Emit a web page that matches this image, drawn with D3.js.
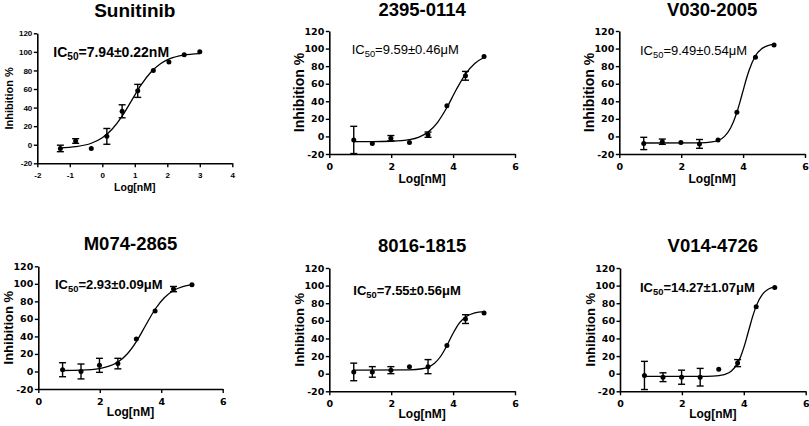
<!DOCTYPE html>
<html>
<head>
<meta charset="utf-8">
<script src="https://cdn.jsdelivr.net/npm/d3@7"></script>
<style>
  html, body { margin: 0; padding: 0; background: #fff; }
  svg { display: block; }
</style>
</head>
<body>
<svg id="chart" width="809" height="426"></svg>
<script>
// ---- data ----
const titles = ['Sunitinib', '2395-0114', 'V030-2005', 'M074-2865', '8016-1815', 'V014-4726']
const ic50Values = ['=7.94\u00b10.22nM', '=9.59\u00b10.46\u03bcM', '=9.49\u00b10.54\u03bcM',
                    '=2.93\u00b10.09\u03bcM', '=7.55\u00b10.56\u03bcM', '=14.27\u00b11.07\u03bcM']

const yTicks = [-20, 0, 20, 40, 60, 80, 100, 120]
const xTicksSunitinib = [-2, -1, 0, 1, 2, 3, 4]
const xTicksCompound = [0, 2, 4, 6]

// log[nM] doses
const logDoseSunitinib = [-1.29, -0.82, -0.34, 0.14, 0.61, 1.09, 1.57, 2.05, 2.52, 3.0]
const logDoseCompound = [0.79, 1.39, 1.99, 2.59, 3.19, 3.80, 4.40, 5.00]

// mean inhibition % and error (0 = bar hidden behind marker)
const meanSunitinib = [-4, 4, -4, 9, 36, 58, 80, 89, 97, 100]
const errSunitinib  = [3.5, 2.5, 0, 8.5, 7, 7, 0, 0, 0, 0]
const mean23950114 = [-4, -8, -2, -7, 2, 35, 69, 91]
const err23950114  = [15.5, 0, 3, 0, 3, 0, 5, 0]
const meanV0302005 = [-8, -6, -7, -8.5, -4, 27.5, 90, 104]
const errV0302005  = [7, 3, 0, 5, 0, 0, 0, 0]
const meanM0742865 = [2, 0, 7, 9, 37, 69, 94, 99]
const errM0742865  = [8, 8.5, 8, 6, 0, 0, 3, 0]
const mean80161815 = [2, 2, 4, 8, 8, 32, 62, 69]
const err80161815  = [10, 6, 4, 0, 8, 0, 5, 0]
const meanV0144726 = [-2, -4, -4, -4, 5, 12, 76, 98]
const errV0144726  = [16, 5, 8, 10, 0, 4, 0, 0]

// fitted curves: [log dose, inhibition %]
const curveSunitinib = [[-1.29, -3.3], [-0.82, -2.1], [-0.34, 1.6], [0, 7.5], [0.3, 16.7], [0.6, 30.3],
  [0.9, 47.5], [1.2, 64.7], [1.5, 78.3], [1.8, 87.5], [2.1, 92.9], [2.5, 96.5], [3.0, 98.2]]
const curve23950114 = [[0.79, -6], [1.39, -6], [1.99, -5.5], [2.59, -3.6], [2.9, -0.7], [3.19, 4.9],
  [3.5, 16.1], [3.8, 32.9], [4.1, 53.1], [4.4, 71], [4.7, 83.1], [5.0, 89.8]]
const curveV0302005 = [[0.79, -7.5], [2.59, -7.3], [3.0, -6.2], [3.2, -4.6], [3.4, 0.1], [3.6, 9.8],
  [3.8, 27.5], [3.9, 39.4], [4.0, 52.2], [4.1, 64.8], [4.2, 75.8], [4.4, 91.8], [4.6, 99.7],
  [4.8, 103.4], [5.0, 105]]
const curveM0742865 = [[0.79, 1.1], [1.39, 1.5], [1.99, 3.3], [2.3, 6], [2.59, 10.8], [2.9, 20.2],
  [3.19, 34], [3.5, 53], [3.8, 71], [4.1, 84.2], [4.4, 92.4], [4.7, 96.8], [5.0, 99]]
const curve80161815 = [[0.79, 4], [2.59, 4.3], [3.0, 5.6], [3.19, 7.5], [3.4, 11.9], [3.6, 19.8],
  [3.8, 32], [3.9, 39.1], [4.0, 45.9], [4.1, 52.1], [4.2, 57.3], [4.4, 64.3], [4.7, 69], [5.0, 70.4]]
const curveV0144726 = [[0.79, -3], [2.59, -3], [3.0, -2.7], [3.2, -2.1], [3.4, -0.7], [3.6, 3.1],
  [3.8, 12], [3.9, 19.6], [4.0, 29.6], [4.1, 41.6], [4.2, 54.4], [4.3, 66.5], [4.4, 76.7],
  [4.6, 90], [4.8, 96.1], [5.0, 98.5]]

const means = [meanSunitinib, mean23950114, meanV0302005, meanM0742865, mean80161815, meanV0144726]
const errs = [errSunitinib, err23950114, errV0302005, errM0742865, err80161815, errV0144726]
const curves = [curveSunitinib, curve23950114, curveV0302005, curveM0742865, curve80161815, curveV0144726]

// ---- layout of the six panels ----
const arial = "'Liberation Sans', Arial, sans-serif"
const small = { titleSize: 19, tickFont: arial, tickSize: 8,
                yLabelSize: 11, xLabelSize: 10.5, icSize: 14 }
const big = { titleSize: 18.5, tickFont: "'DejaVu Sans', sans-serif", tickSize: 9.5,
              yLabelSize: 14, xLabelSize: 12, icSize: 13 }

const panels = [
  Object.assign({}, small, { left: 37.3, right: 232.3, top: 33.3, bottom: 163.3, xDomain: [-2, 4],
    titleY: 16.7, yLabelDx: -28, xLabelDy: 28, icX: 53.3, icY: 56.7, icBold: true }),
  Object.assign({}, big, { left: 329.3, right: 515, top: 31, bottom: 154, xDomain: [0, 6],
    titleY: 16, yLabelDx: -30, xLabelDy: 28.5, icX: 351.7, icY: 54, icBold: false }),
  Object.assign({}, big, { left: 619.3, right: 805, top: 31, bottom: 154, xDomain: [0, 6],
    titleY: 16, yLabelDx: -30, xLabelDy: 28.5, icX: 640, icY: 55, icBold: false }),
  Object.assign({}, big, { left: 38.3, right: 222.7, top: 266.3, bottom: 389, xDomain: [0, 6],
    titleY: 250.3, yLabelDx: -30, xLabelDy: 27, icX: 55, icY: 289, icBold: true, yLabelSize: 13 }),
  Object.assign({}, big, { left: 329.3, right: 515, top: 268, bottom: 391.3, xDomain: [0, 6],
    titleY: 252, yLabelDx: -30, xLabelDy: 27, icX: 353.3, icY: 294.7, icBold: true, yLabelSize: 13 }),
  Object.assign({}, big, { left: 620, right: 805.7, top: 268, bottom: 391.3, xDomain: [0, 6],
    titleY: 252, yLabelDx: -30, xLabelDy: 27, icX: 640, icY: 292.3, icBold: true, yLabelSize: 13 })
]

const svg = d3.select('#chart')

panels.forEach((p, i) => {
  const g = svg.append('g').attr('class', 'panel').style('font-family', arial)
  const x = d3.scaleLinear().domain(p.xDomain).range([p.left, p.right])
  const y = d3.scaleLinear().domain([-20, 120]).range([p.bottom, p.top])
  const doses = i === 0 ? logDoseSunitinib : logDoseCompound
  const xTicks = i === 0 ? xTicksSunitinib : xTicksCompound

  const gy = g.append('g')
      .attr('transform', `translate(${p.left},0)`)
      .call(d3.axisLeft(y).tickValues(yTicks).tickFormat(d => String(d))
        .tickSize(3.5).tickSizeOuter(0).tickPadding(1.5))
  const gx = g.append('g')
      .attr('transform', `translate(0,${p.bottom})`)
      .call(d3.axisBottom(x).tickValues(xTicks).tickFormat(d => String(d))
        .tickSize(4).tickSizeOuter(0).tickPadding(5))

  ;[gy, gx].forEach(a => {
    a.select('.domain').attr('stroke', '#000').attr('stroke-width', 1.6)
    a.selectAll('.tick line').attr('stroke', '#000').attr('stroke-width', 1.4)
    a.selectAll('.tick text')
      .style('font-family', p.tickFont)
      .style('font-weight', 'bold')
      .style('font-size', p.tickSize + 'px')
      .attr('fill', '#000')
  })

  // fitted curve
  const line = d3.line()
      .x(d => x(d[0]))
      .y(d => y(d[1]))
      .curve(d3.curveMonotoneX)
  g.append('path')
      .datum(curves[i])
      .attr('d', line)
      .attr('fill', 'none')
      .attr('stroke', '#000')
      .attr('stroke-width', 1.3)

  // error bars
  const pts = doses.map((d, k) => ({ x: d, m: means[i][k], e: errs[i][k] }))
  const bars = g.append('g')
      .attr('stroke', '#000')
      .attr('stroke-width', 1.4)
    .selectAll('g')
    .data(pts.filter(d => d.e > 0))
    .enter().append('g')
  bars.append('line')
      .attr('x1', d => x(d.x)).attr('x2', d => x(d.x))
      .attr('y1', d => y(d.m - d.e)).attr('y2', d => y(d.m + d.e))
  bars.append('line')
      .attr('x1', d => x(d.x) - 3.5).attr('x2', d => x(d.x) + 3.5)
      .attr('y1', d => y(d.m + d.e)).attr('y2', d => y(d.m + d.e))
  bars.append('line')
      .attr('x1', d => x(d.x) - 3.5).attr('x2', d => x(d.x) + 3.5)
      .attr('y1', d => y(d.m - d.e)).attr('y2', d => y(d.m - d.e))

  // points
  g.append('g').selectAll('circle')
      .data(pts)
      .enter().append('circle')
      .attr('cx', d => x(d.x))
      .attr('cy', d => y(d.m))
      .attr('r', 2.5)
      .attr('fill', '#000')

  // title
  g.append('text')
      .attr('x', (p.left + p.right) / 2)
      .attr('y', p.titleY)
      .attr('text-anchor', 'middle')
      .style('font-weight', 'bold')
      .style('font-size', p.titleSize + 'px')
      .text(titles[i])

  // axis titles
  g.append('text')
      .attr('transform', `translate(${p.left + p.yLabelDx},${(p.top + p.bottom) / 2}) rotate(-90)`)
      .attr('dy', '0.35em')
      .attr('text-anchor', 'middle')
      .style('font-weight', 'bold')
      .style('font-size', p.yLabelSize + 'px')
      .text('Inhibition %')
  g.append('text')
      .attr('x', (p.left + p.right) / 2)
      .attr('y', p.bottom + p.xLabelDy)
      .attr('text-anchor', 'middle')
      .style('font-weight', 'bold')
      .style('font-size', p.xLabelSize + 'px')
      .text('Log[nM]')

  // IC50 label
  const sub = p.icSize * 0.72
  const ic = g.append('text')
      .attr('x', p.icX)
      .attr('y', p.icY)
      .style('font-weight', p.icBold ? 'bold' : 'normal')
      .style('font-size', p.icSize + 'px')
  ic.append('tspan').text('IC')
  ic.append('tspan').style('font-size', sub + 'px').attr('dy', p.icSize * 0.24).text('50')
  ic.append('tspan').attr('dy', -p.icSize * 0.24).text(ic50Values[i])
})
</script>
</body>
</html>
